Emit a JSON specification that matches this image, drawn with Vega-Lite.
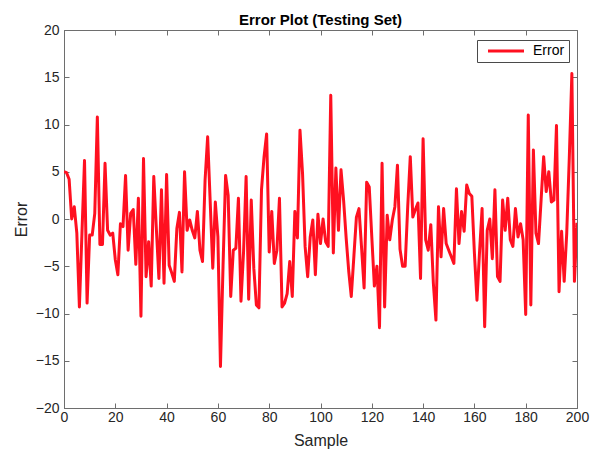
{
  "$schema": "https://vega.github.io/schema/vega-lite/v6.json",
  "autosize": "none",
  "width": 513,
  "height": 378,
  "padding": {"left": 64, "top": 30, "right": 21, "bottom": 43},
  "background": "white",
  "config": {
    "font": "Liberation Sans",
    "view": {"stroke": "#6e6e6e", "strokeWidth": 1},
    "axis": {"grid": false, "domainColor": "#6e6e6e", "tickColor": "#6e6e6e", "labelColor": "#262626", "titleColor": "#262626", "labelFontSize": 14, "titleFontSize": 16, "titleFontWeight": "normal", "tickSize": -5, "labelFlush": false}
  },
  "title": {"text": "Error Plot (Testing Set)", "fontSize": 15, "fontWeight": "bold", "color": "#000000", "offset": -5, "font": "Liberation Sans"},
  "data": {"values": [
    {"s":0,"e":5.0},{"s":1,"e":4.9},{"s":2,"e":4.2},{"s":3,"e":0.0},{"s":4,"e":1.3},{"s":5,"e":-1.5},{"s":6,"e":-9.3},{"s":7,"e":-1.5},{"s":8,"e":6.2},{"s":9,"e":-8.9},
    {"s":10,"e":-1.7},{"s":11,"e":-1.7},{"s":12,"e":0.6},{"s":13,"e":10.8},{"s":14,"e":-2.7},{"s":15,"e":-2.7},{"s":16,"e":5.9},{"s":17,"e":-1.2},{"s":18,"e":-1.7},{"s":19,"e":-1.5},
    {"s":20,"e":-4.3},{"s":21,"e":-5.9},{"s":22,"e":-0.5},{"s":23,"e":-0.8},{"s":24,"e":4.6},{"s":25,"e":-3.3},{"s":26,"e":0.6},{"s":27,"e":1.0},{"s":28,"e":-4.8},{"s":29,"e":2.2},
    {"s":30,"e":-10.3},{"s":31,"e":6.4},{"s":32,"e":-6.1},{"s":33,"e":-2.4},{"s":34,"e":-7.1},{"s":35,"e":4.5},{"s":36,"e":-1.0},{"s":37,"e":-6.3},{"s":38,"e":3.1},{"s":39,"e":-6.8},
    {"s":40,"e":4.7},{"s":41,"e":-4.9},{"s":42,"e":-5.7},{"s":43,"e":-6.6},{"s":44,"e":-1.0},{"s":45,"e":0.7},{"s":46,"e":-5.6},{"s":47,"e":5.0},{"s":48,"e":-1.2},{"s":49,"e":-0.1},
    {"s":50,"e":-1.2},{"s":51,"e":-2.0},{"s":52,"e":0.8},{"s":53,"e":-3.3},{"s":54,"e":-4.5},{"s":55,"e":4.1},{"s":56,"e":8.7},{"s":57,"e":1.8},{"s":58,"e":-5.2},{"s":59,"e":1.8},
    {"s":60,"e":-1.9},{"s":61,"e":-15.6},{"s":62,"e":-5.0},{"s":63,"e":4.6},{"s":64,"e":2.5},{"s":65,"e":-8.2},{"s":66,"e":-3.3},{"s":67,"e":-3.1},{"s":68,"e":2.2},{"s":69,"e":-8.7},
    {"s":70,"e":-3.5},{"s":71,"e":4.5},{"s":72,"e":-8.5},{"s":73,"e":2.0},{"s":74,"e":-5.2},{"s":75,"e":-9.1},{"s":76,"e":-9.4},{"s":77,"e":3.1},{"s":78,"e":6.6},{"s":79,"e":9.0},
    {"s":80,"e":-3.5},{"s":81,"e":0.8},{"s":82,"e":-4.7},{"s":83,"e":-3.3},{"s":84,"e":2.2},{"s":85,"e":-9.3},{"s":86,"e":-8.9},{"s":87,"e":-7.9},{"s":88,"e":-4.5},{"s":89,"e":-8.2},
    {"s":90,"e":0.8},{"s":91,"e":-2.0},{"s":92,"e":9.4},{"s":93,"e":4.8},{"s":94,"e":-2.9},{"s":95,"e":-6.1},{"s":96,"e":-1.9},{"s":97,"e":-0.1},{"s":98,"e":-5.9},{"s":99,"e":0.5},
    {"s":100,"e":-2.6},{"s":101,"e":0.0},{"s":102,"e":-2.4},{"s":103,"e":-2.9},{"s":104,"e":13.1},{"s":105,"e":-3.6},{"s":106,"e":5.4},{"s":107,"e":-1.2},{"s":108,"e":5.2},{"s":109,"e":2.0},
    {"s":110,"e":-2.0},{"s":111,"e":-5.5},{"s":112,"e":-8.2},{"s":113,"e":-4.0},{"s":114,"e":0.2},{"s":115,"e":1.1},{"s":116,"e":-3.0},{"s":117,"e":-7.3},{"s":118,"e":3.9},{"s":119,"e":3.4},
    {"s":120,"e":-1.9},{"s":121,"e":-7.1},{"s":122,"e":-5.0},{"s":123,"e":-11.5},{"s":124,"e":5.9},{"s":125,"e":-9.3},{"s":126,"e":0.4},{"s":127,"e":-2.2},{"s":128,"e":-0.1},{"s":129,"e":1.3},
    {"s":130,"e":5.7},{"s":131,"e":-3.2},{"s":132,"e":-5.0},{"s":133,"e":-5.0},{"s":134,"e":1.3},{"s":135,"e":6.6},{"s":136,"e":0.2},{"s":137,"e":1.0},{"s":138,"e":1.7},{"s":139,"e":-6.3},
    {"s":140,"e":8.5},{"s":141,"e":-2.2},{"s":142,"e":-3.3},{"s":143,"e":-0.6},{"s":144,"e":-6.8},{"s":145,"e":-10.7},{"s":146,"e":1.3},{"s":147,"e":-4.0},{"s":148,"e":1.1},{"s":149,"e":-2.6},
    {"s":150,"e":-3.3},{"s":151,"e":-4.0},{"s":152,"e":-4.7},{"s":153,"e":3.2},{"s":154,"e":-2.6},{"s":155,"e":0.8},{"s":156,"e":-1.3},{"s":157,"e":3.6},{"s":158,"e":2.7},{"s":159,"e":2.4},
    {"s":160,"e":-3.6},{"s":161,"e":-8.6},{"s":162,"e":-3.5},{"s":163,"e":1.1},{"s":164,"e":-11.4},{"s":165,"e":-1.2},{"s":166,"e":0.0},{"s":167,"e":-4.2},{"s":168,"e":3.1},{"s":169,"e":-6.1},
    {"s":170,"e":-6.6},{"s":171,"e":2.0},{"s":172,"e":-1.2},{"s":173,"e":2.2},{"s":174,"e":-2.2},{"s":175,"e":-2.9},{"s":176,"e":1.1},{"s":177,"e":-1.9},{"s":178,"e":-0.5},{"s":179,"e":-2.2},
    {"s":180,"e":-10.1},{"s":181,"e":11.0},{"s":182,"e":-9.1},{"s":183,"e":7.3},{"s":184,"e":-1.5},{"s":185,"e":-2.6},{"s":186,"e":2.0},{"s":187,"e":6.6},{"s":188,"e":2.9},{"s":189,"e":5.0},
    {"s":190,"e":1.8},{"s":191,"e":2.0},{"s":192,"e":9.9},{"s":193,"e":-7.7},{"s":194,"e":-1.3},{"s":195,"e":-6.6},{"s":196,"e":-1.5},{"s":197,"e":6.5},{"s":198,"e":15.4},{"s":199,"e":-6.6},
    {"s":200,"e":-0.4}
  ]},
  "transform": [{"calculate": "'Error'", "as": "series"}],
  "layer": [
    {
      "mark": {"type": "line", "strokeWidth": 3, "strokeJoin": "round", "clip": true},
      "encoding": {
        "x": {"field": "s", "type": "quantitative", "scale": {"domain": [0, 200], "nice": false, "zero": false}, "axis": {"orient": "bottom", "values": [0,20,40,60,80,100,120,140,160,180,200], "title": "Sample", "titlePadding": 8, "labelPadding": 7}},
        "y": {"field": "e", "type": "quantitative", "scale": {"domain": [-20, 20], "nice": false, "zero": false}, "axis": {"orient": "left", "values": [-20,-15,-10,-5,0,5,10,15,20], "title": "Error", "titlePadding": 6, "labelPadding": 10}},
        "color": {"field": "series", "type": "nominal", "scale": {"range": ["#ff1020"]}, "legend": {"title": null, "orient": "none", "legendX": 413, "legendY": 10, "symbolType": "M0,0L18,0", "symbolSize": 16, "symbolStrokeWidth": 3, "labelFontSize": 14, "labelColor": "#000000", "strokeColor": "#4a4a4a", "fillColor": "white", "padding": 4, "labelOffset": 38, "symbolOffset": 0}}
      }
    },
    {
      "mark": {"type": "line", "opacity": 0},
      "encoding": {
        "x": {"field": "s", "type": "quantitative", "scale": {"domain": [0, 200], "nice": false, "zero": false}, "axis": {"orient": "top", "values": [0,20,40,60,80,100,120,140,160,180,200], "labels": false, "title": null, "domain": false}},
        "y": {"field": "e", "type": "quantitative", "scale": {"domain": [-20, 20], "nice": false, "zero": false}, "axis": {"orient": "right", "values": [-20,-15,-10,-5,0,5,10,15,20], "labels": false, "title": null, "domain": false}}
      }
    }
  ],
  "resolve": {"axis": {"x": "independent", "y": "independent"}}
}
